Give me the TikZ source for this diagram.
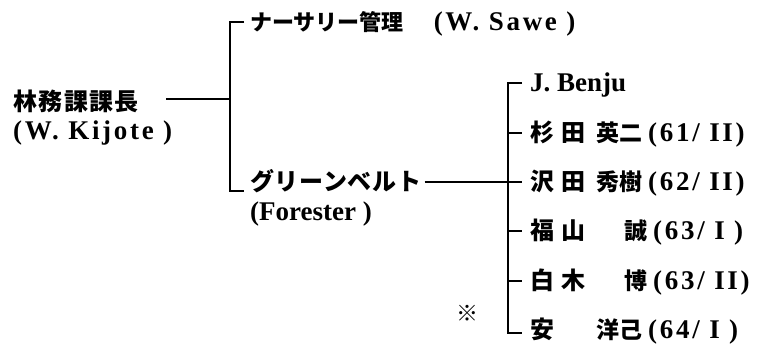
\documentclass[tikz,border=0pt]{standalone}
\usepackage{fontspec}
\setmainfont{Liberation Serif}
\newfontfamily\jpf{Noto Sans CJK JP}
\newfontfamily\latf{Liberation Serif}
\newcommand{\JpS}[3]{{\jpf\bfseries\fontsize{#1}{#1}\selectfont\addfontfeature{LetterSpace=#2}#3}}
\newcommand{\LatTxt}[2][10]{{\latf\bfseries\fontsize{27}{30}\selectfont\addfontfeature{LetterSpace=#1}#2}}
\begin{document}
\begin{tikzpicture}[x=1pt,y=-1pt,
  lbl/.style={inner sep=0pt,text height=19pt,text depth=1.6pt,anchor=west},
  lbr/.style={inner sep=0pt,text height=19pt,text depth=1.6pt,anchor=east},
  conn/.style={line width=1.7pt,line join=miter}]
\useasboundingbox[fill=white] (0,0) rectangle (767,356);
% left
\node[lbl] (boss) at (13,102) {\JpS{24}{6}{林務課課長}};
\node[lbl] (bossname) at (13,131) {\LatTxt[10]{(W. Kijote )}};
% middle
\node[lbl] (nurs) at (250,22) {\JpS{22}{0}{ナーサリー管理}\hspace{30pt}\LatTxt[10]{(W. Sawe )}};
\node[lbl] (green) at (250,182) {\JpS{24}{3}{グリーンベルト}};
\node[lbl] (forester) at (250,212) {\LatTxt[0]{(Forester )}};
\node[inner sep=0pt] (mark) at (467,313) {\JpS{22}{0}{※}};
% rows
\node[lbl] (r1) at (530,83) {\LatTxt[0]{J. Benju}};
\node[lbl] (r2) at (530,133) {\JpS{24}{30}{杉田}};
\node[lbr] (r2g) at (643,133) {\JpS{23}{0}{英二}};
\node[lbl] (r2y) at (648,133) {\LatTxt[10]{(61/ II)}};
\node[lbl] (r3) at (530,182) {\JpS{24}{30}{沢田}};
\node[lbr] (r3g) at (643,182) {\JpS{23}{0}{秀樹}};
\node[lbl] (r3y) at (648,182) {\LatTxt[10]{(62/ II)}};
\node[lbl] (r4) at (530,231) {\JpS{24}{30}{福山}};
\node[lbr] (r4g) at (648,231) {\JpS{23}{0}{誠}};
\node[lbl] (r4y) at (653,231) {\LatTxt[10]{(63/ I )}};
\node[lbl] (r5) at (530,281) {\JpS{24}{30}{白木}};
\node[lbr] (r5g) at (648,281) {\JpS{23}{0}{博}};
\node[lbl] (r5y) at (653,281) {\LatTxt[10]{(63/ II)}};
\node[lbl] (r6) at (530,330) {\JpS{24}{0}{安}};
\node[lbr] (r6g) at (643,330) {\JpS{23}{0}{洋己}};
\node[lbl] (r6y) at (648,330) {\LatTxt[10]{(64/ I )}};
% connectors
\coordinate (bx1) at (230,99);
\coordinate (bx2) at (508,182);
\draw[conn] (bx1 -| boss.east) ++(27,0) -- (bx1);
\draw[conn] ([xshift=-6pt]nurs.west) -| (bx1) |- ([xshift=-6pt,yshift=-9pt]green.west);
\draw[conn] ([xshift=-8pt]r1.west) -| (bx2) |- ([xshift=-8pt,yshift=-3pt]r6.west);
\foreach \r in {r2,r4,r5} \draw[conn] (bx2 |- \r.west) -- ([xshift=-8pt]\r.west);
\draw[conn] ([xshift=3pt]green.east) -- ([xshift=-8pt]r3.west);
\end{tikzpicture}
\end{document}
